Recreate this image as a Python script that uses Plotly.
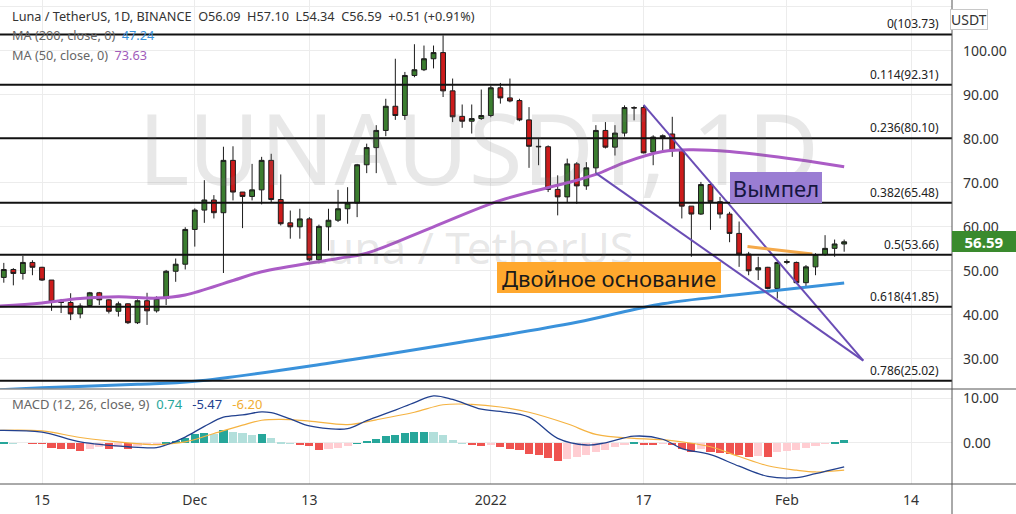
import plotly.graph_objects as go
import pandas as pd

# ---------------- data ----------------
dates = pd.date_range("2021-11-11", periods=89, freq="D")

opens = [48.5, 50.3, 49.4, 51.9, 50.8, 47.9, 43.0, 42.8, 40.2, 42.1,
         45.0, 43.4, 40.8, 42.5, 38.2, 43.2, 40.9, 43.7, 49.9, 51.5,
         59.4, 63.8, 66.1, 63.2, 75.1, 67.9, 66.9, 68.4, 75.1, 66.2,
         60.9, 60.0, 61.8, 52.5, 60.0, 61.5, 64.1, 65.4, 74.1, 78.0,
         81.9, 87.4, 85.3, 94.4, 95.7, 98.2, 99.6, 90.9, 85.1, 84.0,
         84.6, 85.3, 91.6, 89.3, 88.7, 84.3, 78.3, 78.2, 68.5, 66.8,
         74.3, 69.3, 73.4, 81.9, 78.1, 81.3, 87.1, 87.1, 77.0, 80.3,
         81.1, 77.3, 64.7, 62.9, 69.6, 65.7, 62.9, 58.5, 53.8, 50.2,
         50.8, 46.0, 51.9, 51.9, 47.3, 50.9, 53.7, 55.1, 56.09]
highs = [51.8, 50.6, 53.4, 52.4, 50.9, 47.9, 43.6, 44.9, 42.6, 45.2,
         45.2, 43.5, 43.0, 42.6, 43.5, 45.0, 44.2, 50.2, 52.8, 59.9,
         64.2, 70.6, 67.2, 78.2, 78.3, 67.9, 74.3, 75.9, 76.6, 71.9,
         63.7, 64.1, 62.2, 60.5, 64.1, 68.4, 69.0, 74.3, 78.9, 83.1,
         89.1, 98.2, 95.2, 101.5, 101.2, 101.2, 103.5, 93.7, 87.8, 87.8,
         91.2, 92.1, 92.7, 93.7, 89.1, 87.2, 80.2, 78.5, 71.7, 75.5,
         74.7, 74.7, 83.1, 83.8, 83.1, 87.6, 87.4, 87.6, 80.8, 81.0,
         85.0, 77.6, 64.7, 70.2, 69.9, 66.8, 63.4, 61.2, 54.3, 53.2,
         50.9, 52.1, 52.6, 52.1, 51.3, 54.0, 58.1, 57.1, 57.10]
lows = [47.3, 46.7, 48.0, 49.0, 47.7, 40.9, 40.4, 38.8, 39.2, 41.8,
        42.2, 40.3, 39.6, 37.9, 37.9, 37.7, 40.5, 42.2, 47.5, 50.3,
        55.5, 60.9, 61.9, 49.5, 66.0, 59.7, 66.0, 65.1, 65.6, 60.3,
        57.3, 57.3, 52.2, 51.7, 54.6, 61.1, 60.7, 62.2, 72.2, 72.2,
        80.6, 84.3, 84.3, 94.0, 95.4, 96.0, 89.5, 83.8, 82.5, 81.2,
        84.3, 84.9, 88.0, 88.3, 84.0, 73.4, 74.0, 67.9, 62.6, 65.6,
        65.2, 68.4, 72.2, 77.8, 76.2, 80.5, 84.2, 76.7, 74.0, 77.0,
        75.9, 61.9, 53.2, 62.7, 59.3, 61.9, 56.5, 50.9, 49.0, 47.9,
        45.8, 43.7, 51.5, 47.1, 46.4, 49.0, 53.4, 53.2, 54.34]
closes = [50.3, 49.4, 51.9, 50.8, 47.9, 43.0, 42.8, 40.2, 42.0, 45.0,
          43.4, 40.8, 42.5, 38.2, 43.2, 40.9, 43.7, 49.9, 51.5, 59.4,
          63.8, 66.1, 63.2, 75.1, 67.9, 66.9, 68.4, 75.1, 66.2, 60.7,
          60.0, 61.8, 52.5, 60.1, 61.5, 64.1, 65.4, 74.1, 78.0, 81.9,
          87.4, 85.3, 94.4, 95.7, 98.2, 99.6, 90.9, 85.0, 84.0, 84.6,
          85.3, 91.6, 89.3, 88.6, 84.3, 78.3, 78.2, 68.5, 66.8, 74.3,
          69.3, 73.4, 81.9, 78.1, 81.3, 87.1, 87.0, 76.8, 80.4, 80.7,
          77.3, 64.7, 62.9, 69.6, 65.7, 62.9, 58.5, 53.8, 50.0, 50.7,
          46.0, 51.9, 52.1, 47.3, 50.9, 53.7, 55.1, 56.1, 56.59]

macd_hist = [0.1, 0.05, 0.0, -0.05, -0.15, -1.0, -1.2, -1.3, -1.7, -1.2,
             -0.9, -1.2, -0.8, -1.2, -0.6, -0.3, -0.1, 0.1, 0.6, 1.3,
             2.0, 2.4, 2.0, 3.0, 2.6, 2.4, 1.9, 2.0, 1.2, 0.4,
             0.05, -0.2, -0.6, -1.5, -1.3, -1.0, -0.7, 0.05, 0.5, 1.0,
             1.6, 1.9, 2.3, 2.6, 2.65, 2.5, 1.8, 0.8, 0.05, -0.3,
             -0.5, -0.4, -0.8, -1.2, -1.6, -2.4, -2.7, -3.3, -3.9, -3.5,
             -3.1, -2.7, -2.0, -1.6, -0.9, -0.2, 0.2, -0.2, -0.3, -0.1,
             -0.4, -1.2, -2.0, -1.2, -2.0, -2.3, -2.4, -2.7, -3.0, -2.8,
             -3.0, -2.0, -1.8, -1.5, -1.0, -0.5, -0.1, 0.4, 0.74]

macd_dates = ["2021-11-10", "2021-11-15", "2021-11-19", "2021-11-24", "2021-11-27",
              "2021-11-28", "2021-11-30", "2021-12-02", "2021-12-04", "2021-12-06",
              "2021-12-08", "2021-12-09", "2021-12-11", "2021-12-13", "2021-12-15",
              "2021-12-17", "2021-12-19", "2021-12-22", "2021-12-24", "2021-12-26",
              "2021-12-28", "2021-12-31", "2022-01-02", "2022-01-05", "2022-01-08",
              "2022-01-11", "2022-01-13", "2022-01-16", "2022-01-19", "2022-01-21",
              "2022-01-24", "2022-01-27", "2022-01-30", "2022-02-02", "2022-02-04",
              "2022-02-07"]
macd_values = [2.8, 2.4, 0.2, -0.9, -1.1, -0.5, 1.3, 3.7, 5.8, 6.3,
               7.0, 6.8, 5.4, 3.8, 3.2, 3.2, 5.0, 7.4, 9.1, 10.6,
               9.8, 7.6, 7.1, 5.8, 1.0, -0.5, 0.0, 1.5, 0.8, -1.3,
               -2.7, -5.3, -7.6, -7.9, -7.0, -5.47]

signal_dates = ["2021-11-10", "2021-11-15", "2021-11-19", "2021-11-24", "2021-11-27",
                "2021-11-30", "2021-12-03", "2021-12-06", "2021-12-08", "2021-12-10",
                "2021-12-13", "2021-12-17", "2021-12-20", "2021-12-24", "2021-12-27",
                "2021-12-30", "2022-01-02", "2022-01-05", "2022-01-09", "2022-01-12",
                "2022-01-16", "2022-01-19", "2022-01-21", "2022-01-24", "2022-01-27",
                "2022-01-30", "2022-02-02", "2022-02-04", "2022-02-07"]
signal_values = [2.8, 2.7, 1.2, 0.0, -0.4, 0.2, 2.1, 4.0, 5.1, 5.3,
                 4.9, 4.1, 5.2, 6.9, 8.6, 8.7, 8.1, 6.9, 4.3, 1.9,
                 1.0, 0.7, 0.2, -0.9, -3.1, -5.2, -6.2, -6.6, -6.2]

ma50_dates = ["2021-11-10", "2021-11-15", "2021-11-19", "2021-11-23", "2021-11-27",
              "2021-11-30", "2021-12-05", "2021-12-08", "2021-12-16", "2021-12-19",
              "2021-12-26", "2022-01-02", "2022-01-09", "2022-01-12", "2022-01-15",
              "2022-01-19", "2022-01-22", "2022-01-26", "2022-02-02", "2022-02-07"]
ma50_values = [41.9, 42.7, 43.7, 44.1, 43.8, 44.5, 47.8, 49.8, 52.8, 54.0,
               60.0, 66.0, 70.0, 71.9, 74.6, 77.1, 77.5, 77.1, 75.3, 73.63]

ma200_dates = ["2021-11-10", "2021-11-15", "2021-11-25", "2021-12-01", "2021-12-15",
               "2021-12-29", "2022-01-10", "2022-01-19", "2022-01-27", "2022-02-07"]
ma200_values = [22.9, 23.4, 24.2, 24.9, 29.0, 33.8, 38.3, 42.5, 44.6, 47.24]

fib_ratios = ["0", "0.114", "0.236", "0.382", "0.5", "0.618", "0.786"]
fib_levels = [103.73, 92.31, 80.10, 65.48, 53.66, 41.85, 25.02]

pennant_upper_dates = ["2022-01-17", "2022-02-09"]
pennant_upper_values = [87.7, 29.6]
pennant_lower_dates = ["2022-01-12", "2022-02-09"]
pennant_lower_values = [72.2, 29.6]
resistance_dates = ["2022-01-27 21:00", "2022-02-03 16:00"]
resistance_values = [55.5, 53.8]

x_tick_dates = ["2021-11-15", "2021-12-01", "2021-12-13", "2022-01-01",
                "2022-01-17", "2022-02-01", "2022-02-14"]
x_tick_labels = ["15", "Dec", "13", "2022", "17", "Feb", "14"]
price_ticks = [30, 40, 50, 60, 70, 80, 90, 100, 110]
macd_ticks = [0, 10]

last_price = 56.59
pennant_label = ("2022-01-30 21:00", 69.0, "Вымпел")
double_bottom_label = ("2022-01-13 09:00", 48.5, "Двойное основание")

# ---------------- styling helpers ----------------
W, H = 1016, 514
ML, MR, MT, MB = 0, 64, 0, 30
PW, PH = W - ML - MR, H - MT - MB
FONT = "Noto Sans"


def pxx(px):
    return (px - ML) / PW


def pyy(py):
    return (PH - py) / PH


hist_colors = []
prev = 0.0
for v in macd_hist:
    if v >= 0:
        hist_colors.append("#26a69a" if v >= prev else "#b2dfdb")
    else:
        hist_colors.append("#ef5350" if v < prev else "#ffcdd2")
    prev = v

fig = go.Figure()

fig.add_trace(go.Scatter(x=ma200_dates, y=ma200_values, mode="lines",
                         line=dict(color="#3a92db", width=3, shape="spline"),
                         xaxis="x", yaxis="y", hoverinfo="skip"))
fig.add_trace(go.Scatter(x=ma50_dates, y=ma50_values, mode="lines",
                         line=dict(color="#ab5cc6", width=3, shape="spline"),
                         xaxis="x", yaxis="y", hoverinfo="skip"))

fig.add_trace(go.Candlestick(
    x=dates, open=opens, high=highs, low=lows, close=closes,
    increasing=dict(fillcolor="#3b7d2f", line=dict(color="#1c1c1c", width=1)),
    decreasing=dict(fillcolor="#cc1b1b", line=dict(color="#1c1c1c", width=1)),
    xaxis="x", yaxis="y", hoverinfo="skip"))

fig.add_trace(go.Scatter(x=pennant_upper_dates, y=pennant_upper_values, mode="lines",
                         line=dict(color="#6a4db5", width=2), xaxis="x", yaxis="y"))
fig.add_trace(go.Scatter(x=pennant_lower_dates, y=pennant_lower_values, mode="lines",
                         line=dict(color="#6a4db5", width=2), xaxis="x", yaxis="y"))
fig.add_trace(go.Scatter(x=resistance_dates, y=resistance_values, mode="lines",
                         line=dict(color="#f5a94a", width=3), xaxis="x", yaxis="y"))

fig.add_trace(go.Bar(x=dates, y=macd_hist, marker=dict(color=hist_colors, line=dict(width=0)),
                     width=0.85 * 86400000, xaxis="x2", yaxis="y2"))
fig.add_trace(go.Scatter(x=signal_dates, y=signal_values, mode="lines",
                         line=dict(color="#f5b342", width=1.2, shape="spline"),
                         xaxis="x2", yaxis="y2"))
fig.add_trace(go.Scatter(x=macd_dates, y=macd_values, mode="lines",
                         line=dict(color="#22418f", width=1.3, shape="spline"),
                         xaxis="x2", yaxis="y2"))

x_range = ["2021-11-10 14:27", "2022-02-18 07:00"]
price_dom_bottom = pyy(388.5)
macd_dom_top = pyy(389.5)

grid = "#ececec"
fig.update_layout(
    width=W, height=H, margin=dict(l=ML, r=MR, t=MT, b=MB, autoexpand=False),
    paper_bgcolor="white", plot_bgcolor="white", showlegend=False,
    font=dict(family=FONT, color="#333"),
    bargap=0, boxgap=0.28,
    xaxis=dict(domain=[0, 1], anchor="y", range=x_range, type="date",
               tickvals=x_tick_dates, ticktext=[""] * len(x_tick_dates),
               showgrid=True, gridcolor=grid, zeroline=False, showline=False,
               rangeslider=dict(visible=False)),
    xaxis2=dict(domain=[0, 1], anchor="y2", range=x_range, type="date", matches="x",
                tickvals=x_tick_dates, ticktext=x_tick_labels,
                tickfont=dict(size=14, color="#333", family=FONT),
                showgrid=True, gridcolor=grid, zeroline=False, showline=False,
                ticks="", ticklabelstandoff=6),
    yaxis=dict(domain=[price_dom_bottom, 1], anchor="x", side="right",
               range=[23.25, 111.55], tickvals=price_ticks,
               ticktext=[f"{v:.2f}" for v in price_ticks],
               tickfont=dict(size=14, color="#333", family=FONT),
               showgrid=True, gridcolor=grid, zeroline=False, showline=False,
               ticks="", ticklabelstandoff=10),
    yaxis2=dict(domain=[0, macd_dom_top], anchor="x2", side="right",
                range=[-9.32, 12.05], tickvals=macd_ticks,
                ticktext=[f"{v:.2f}" for v in macd_ticks],
                tickfont=dict(size=14, color="#333", family=FONT),
                showgrid=True, gridcolor=grid, zeroline=False, showline=False,
                ticks="", ticklabelstandoff=10),
)

shapes = []
for lvl in fib_levels:
    shapes.append(dict(type="line", xref="paper", yref="y", x0=0, x1=1, y0=lvl, y1=lvl,
                       line=dict(color="#111", width=2), layer="above"))
# pane frames
shapes.append(dict(type="line", xref="paper", yref="paper", x0=0, x1=W / PW,
                   y0=pyy(389), y1=pyy(389), line=dict(color="#555", width=1)))
shapes.append(dict(type="line", xref="paper", yref="paper", x0=0, x1=W / PW,
                   y0=0, y1=0, line=dict(color="#555", width=1)))
shapes.append(dict(type="line", xref="paper", yref="paper", x0=1, x1=1,
                   y0=pyy(H), y1=1, line=dict(color="#555", width=1)))
fig.update_layout(shapes=shapes)

ann = []
# watermark
ann.append(dict(text="LUNAUSDT, 1D", xref="paper", yref="paper", x=pxx(478), y=pyy(147),
                yanchor="middle", showarrow=False,
                font=dict(size=98, color="rgba(110,110,110,0.16)", family=FONT)))
ann.append(dict(text="Luna / TetherUS", xref="paper", yref="paper", x=pxx(469), y=pyy(247),
                yanchor="middle", showarrow=False,
                font=dict(size=44, color="rgba(110,110,110,0.16)", family=FONT)))

# fib labels
for r, lvl in zip(fib_ratios, fib_levels):
    ann.append(dict(text=f"{r}({lvl:.2f})", xref="paper", yref="y", x=pxx(941), y=lvl,
                    xanchor="right", yanchor="bottom", yshift=0, showarrow=False,
                    font=dict(size=12, color="#222", family=FONT)))

# top-left legend
o, h, l, c = opens[-1], highs[-1], lows[-1], closes[-1]
ann.append(dict(
    text=(f"Luna / TetherUS, 1D, BINANCE  O{o:.2f}  H{h:.2f}  L{l:.2f}  C{c:.2f}  +0.51 (+0.91%)"),
    xref="paper", yref="paper", x=pxx(10), y=pyy(16), xanchor="left", yanchor="middle",
    showarrow=False, font=dict(size=12.7, color="#333", family=FONT)))
ann.append(dict(
    text=f"MA (200, close, 0)  <span style='color:#3a92db'>{ma200_values[-1]:.2f}</span>",
    xref="paper", yref="paper", x=pxx(10), y=pyy(35), xanchor="left", yanchor="middle",
    showarrow=False, font=dict(size=12.7, color="#666", family=FONT)))
ann.append(dict(
    text=f"MA (50, close, 0)  <span style='color:#a05cba'>{ma50_values[-1]:.2f}</span>",
    xref="paper", yref="paper", x=pxx(10), y=pyy(55), xanchor="left", yanchor="middle",
    showarrow=False, font=dict(size=12.7, color="#666", family=FONT)))
ann.append(dict(
    text=(f"MACD (12, 26, close, 9)  <span style='color:#26a69a'>{macd_hist[-1]:.2f}</span>"
          f"   <span style='color:#22418f'>{macd_values[-1]:.2f}</span>"
          f"   <span style='color:#f0ad33'>{signal_values[-1]:.2f}</span>"),
    xref="paper", yref="paper", x=pxx(10), y=pyy(404), xanchor="left", yanchor="middle",
    showarrow=False, font=dict(size=13, color="#666", family=FONT)))

# drawing labels
ann.append(dict(text=pennant_label[2], x=pennant_label[0], y=pennant_label[1], xref="x", yref="y",
                showarrow=False, bgcolor="#9a7dd3", borderpad=3, borderwidth=0,
                width=86, height=25, font=dict(size=22, color="#16163f", family=FONT)))
ann.append(dict(text=double_bottom_label[2], x=double_bottom_label[0], y=double_bottom_label[1],
                xref="x", yref="y", showarrow=False, bgcolor="#ffa82e", borderpad=3, borderwidth=0,
                width=218, height=25, font=dict(size=22, color="#1a1a1a", family=FONT)))

# axis extras
ann.append(dict(text="USDT", xref="paper", yref="paper", x=pxx(988), y=pyy(19.5),
                yanchor="middle", showarrow=False, bgcolor="white", bordercolor="#c8c8c8",
                borderwidth=1, borderpad=0, height=19,
                font=dict(size=14, color="#333", family=FONT)))
ann.append(dict(text=f"<b>{last_price:.2f}</b>", xref="paper", yref="y", x=1, y=last_price,
                xanchor="left", yanchor="middle", showarrow=False, bgcolor="#3a8a2e",
                borderpad=1, borderwidth=0, width=62, height=19,
                font=dict(size=15, color="white", family=FONT)))

fig.update_layout(annotations=ann)
fig.write_html("out.html", config={"displayModeBar": False},
               post_script="document.body.style.margin='0px';")
